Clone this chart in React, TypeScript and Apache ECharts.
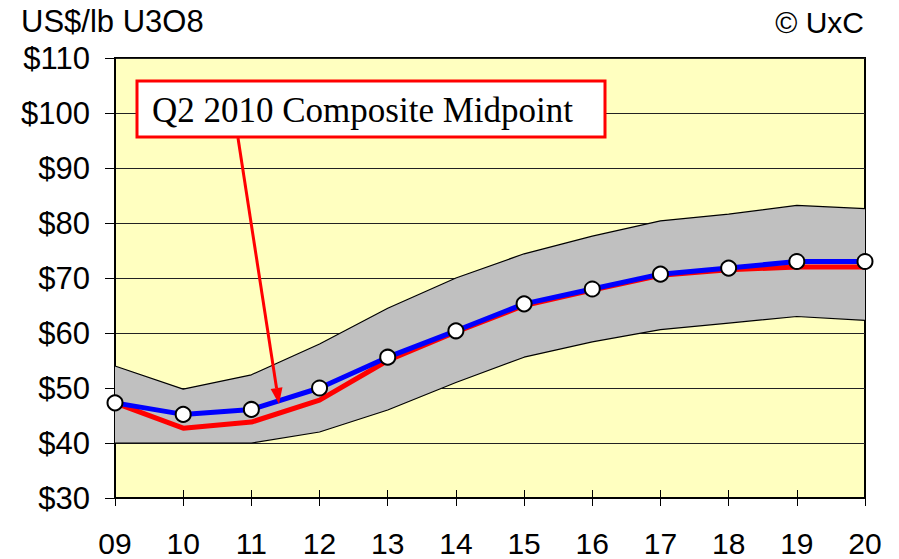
import React, { useEffect, useRef } from "react";
import * as echarts from "echarts";

const years = ["09", "10", "11", "12", "13", "14", "15", "16", "17", "18", "19", "20"];
const midpointQ2 = [47.3, 45.2, 46.1, 50.0, 55.6, 60.4, 65.3, 68.0, 70.7, 71.8, 73.0, 73.0];
const previousMid = [47.3, 42.7, 43.8, 47.8, 55.0, 60.2, 65.0, 67.8, 70.5, 71.5, 72.0, 72.0];
const bandUpper = [54.0, 49.8, 52.4, 58.0, 64.5, 70.0, 74.4, 77.6, 80.4, 81.6, 83.2, 82.6];
const bandLower = [40.0, 40.0, 40.0, 42.0, 46.0, 51.0, 55.6, 58.4, 60.6, 61.8, 63.0, 62.3];
const yTicks = { min: 30, max: 110, step: 10 };

export default function App() {
  const ref = useRef<HTMLDivElement>(null);
  useEffect(() => {
    if (!ref.current) return;
    const chart = echarts.init(ref.current, null, { renderer: "svg" });
    const sans = "Liberation Sans";
    const bandDiff = bandUpper.map((u, i) => +(u - bandLower[i]).toFixed(2));
    // arrow geometry
    const sx = 238, sy = 138, tx = 279, ty = 404;
    const dx = tx - sx, dy = ty - sy;
    const L = Math.hypot(dx, dy);
    const ux = dx / L, uy = dy / L;
    const bx = tx - 16 * ux, by = ty - 16 * uy;
    const px = uy * 6, py = -ux * 6;
    chart.setOption({
      animation: false,
      grid: {
        left: 115,
        right: 34,
        top: 58,
        bottom: 61,
        show: true,
        backgroundColor: "#FFFFC0",
        borderColor: "#000",
        borderWidth: 2,
      },
      xAxis: [
        {
          type: "category",
          data: years,
          boundaryGap: false,
          position: "bottom",
          axisLine: { show: true, lineStyle: { color: "#000", width: 2 } },
          axisTick: { show: true, length: 8, inside: false, lineStyle: { color: "#000", width: 1 } },
          axisLabel: { fontFamily: sans, fontSize: 30, lineHeight: 28, color: "#000", margin: 31 },
          splitLine: { show: false },
        },
        {
          type: "category",
          data: years,
          boundaryGap: false,
          position: "bottom",
          axisLine: { show: false },
          axisTick: { show: true, length: 8, inside: true, lineStyle: { color: "#000", width: 1 } },
          axisLabel: { show: false },
          splitLine: { show: false },
        },
      ],
      yAxis: {
        type: "value",
        min: yTicks.min,
        max: yTicks.max,
        interval: yTicks.step,
        axisLine: { show: true, lineStyle: { color: "#000", width: 2 } },
        axisTick: { show: true, length: 10, lineStyle: { color: "#000", width: 1 } },
        axisLabel: { fontFamily: sans, fontSize: 31, color: "#000", margin: 25, formatter: "${value}" },
        splitLine: { show: true, lineStyle: { color: "#222", width: 1 } },
      },
      series: [
        {
          type: "line",
          data: bandLower,
          stack: "band",
          symbol: "none",
          lineStyle: { color: "#000", width: 1.2 },
          z: 3,
        },
        {
          type: "line",
          data: bandDiff,
          stack: "band",
          symbol: "none",
          lineStyle: { color: "#000", width: 1.2 },
          areaStyle: { color: "#C0C0C0", opacity: 1 },
          z: 2,
        },
        {
          type: "line",
          data: previousMid,
          symbol: "none",
          lineStyle: { color: "#FF0000", width: 5 },
          z: 4,
        },
        {
          type: "line",
          data: midpointQ2,
          symbol: "circle",
          symbolSize: 15,
          lineStyle: { color: "#0000FF", width: 5 },
          itemStyle: { color: "#FFFFFF", borderColor: "#000", borderWidth: 2 },
          z: 5,
        },
      ],
      graphic: [
        {
          type: "text",
          left: 21,
          top: 6,
          style: { text: "US$/lb U3O8", font: `31px "${sans}"`, fill: "#000" },
        },
        {
          type: "text",
          right: 35,
          top: 7,
          style: { text: "© UxC", font: `30px "${sans}"`, fill: "#000" },
        },
        {
          type: "rect",
          shape: { x: 137, y: 81, width: 468, height: 56 },
          style: { fill: "#fff", stroke: "#FF0000", lineWidth: 3 },
          z: 10,
        },
        {
          type: "text",
          x: 152,
          y: 110,
          style: {
            text: "Q2 2010 Composite Midpoint",
            font: `35px "Liberation Serif"`,
            fill: "#000",
            verticalAlign: "middle",
          },
          z: 11,
        },
        {
          type: "line",
          shape: { x1: sx, y1: sy, x2: bx, y2: by },
          style: { stroke: "#FF0000", lineWidth: 3 },
          z: 10,
        },
        {
          type: "polygon",
          shape: { points: [[tx, ty], [bx + px, by + py], [bx - px, by - py]] },
          style: { fill: "#FF0000" },
          z: 10,
        },
      ],
    });
    return () => chart.dispose();
  }, []);
  return (
    <div
      ref={ref}
      style={{ position: "fixed", left: 0, top: 0, width: 899, height: 559, background: "#fff" }}
    />
  );
}
